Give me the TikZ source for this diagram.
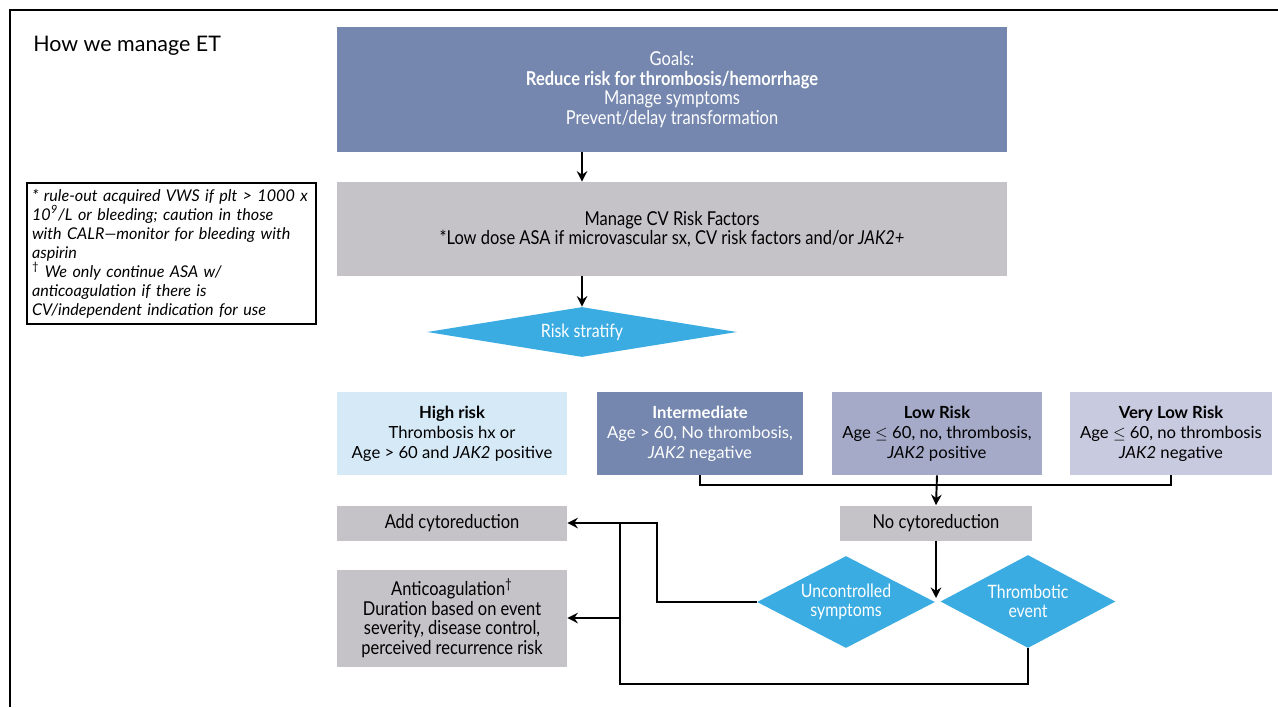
\documentclass[tikz,border=0pt]{standalone}
\usepackage{fontspec}
\setmainfont{Lato}
\newfontfamily\narrowfont{Lato}[FakeStretch=0.86]
\usetikzlibrary{arrows.meta,positioning,calc,shapes.geometric}
\definecolor{goalcol}{RGB}{117,135,174}
\definecolor{cvgray}{RGB}{197,195,199}
\definecolor{stratcol}{RGB}{58,172,226}
\definecolor{highcol}{RGB}{214,233,247}
\definecolor{lowcol}{RGB}{165,170,200}
\definecolor{vlowcol}{RGB}{200,202,223}
\tikzset{
  gbox/.style={rectangle,fill=cvgray,inner sep=2pt,align=center,font=\narrowfont\fontsize{10.9}{11.1}\selectfont},
  riskbox/.style={rectangle,inner sep=2pt,align=center,minimum height=1.66cm,font=\fontsize{9.5}{11.3}\selectfont},
  dec/.style={diamond,fill=stratcol,inner sep=0pt,align=center,text=white,font=\narrowfont\fontsize{10.5}{10.8}\selectfont},
  ln/.style={line width=1.1pt},
  arr/.style={-{Stealth[length=6pt,width=6pt,inset=2pt]},line width=1.1pt}
}
\begin{document}
\begin{tikzpicture}[x=0.02cm,y=-0.02cm]
  \useasboundingbox (0,0) rectangle (1278,707);
  \draw[line width=1.4pt] (10,707) -- (10,10) -- (1278,10);
  \node[anchor=west,inner sep=0pt,font=\fontsize{12.2}{14}\selectfont] (ttl) at (33,46) {How we manage ET};
  \node[gbox,fill=goalcol,text=white,minimum width=13.4cm,minimum height=2.5cm] (goals) at (672,89.5)
    {Goals:\\\textbf{Reduce risk for thrombosis/hemorrhage}\\Manage symptoms\\Prevent/delay transformation};
  \node[gbox,minimum width=13.4cm,minimum height=1.88cm] (cv) at (672,229)
    {Manage CV Risk Factors\\*Low dose ASA if microvascular sx, CV risk factors and/or \textit{JAK2+}};
  \node[dec,minimum width=6.2cm,minimum height=1cm,aspect=6.2] (strat) at (582,332) {Risk stratify};
  \node[draw,line width=0.9pt,rectangle,inner sep=3pt,align=left,text width=5.58cm,minimum height=2.82cm,
    font=\itshape\fontsize{9.2}{10.8}\selectfont] (note) at (171.5,253.5)
    {* rule-out acquired VWS if plt > 1000 x\\10\textsuperscript{9}/L or bleeding; caution in those\\with CALR—monitor for bleeding with\\aspirin\\\textsuperscript{\upshape†} We only continue ASA w/\\anticoagulation if there is\\CV/independent indication for use};
  \node[riskbox,fill=highcol,minimum width=4.6cm] (high) at (452,433.5)
    {\textbf{High risk}\\Thrombosis hx or\\Age > 60 and \textit{JAK2} positive};
  \node[riskbox,fill=goalcol,text=white,minimum width=4.12cm] (inter) at (700,433.5)
    {\textbf{Intermediate}\\Age > 60, No thrombosis,\\\textit{JAK2} negative};
  \node[riskbox,fill=lowcol,minimum width=4.2cm] (low) at (937,433.5)
    {\textbf{Low Risk}\\Age $\le$ 60, no, thrombosis,\\\textit{JAK2} positive};
  \node[riskbox,fill=vlowcol,minimum width=4.04cm] (vlow) at (1171,433.5)
    {\textbf{Very Low Risk}\\Age $\le$ 60, no thrombosis\\\textit{JAK2} negative};
  \node[gbox,minimum width=4.6cm,minimum height=0.7cm] (add) at (452,523) {Add cytoreduction};
  \node[gbox,minimum width=3.86cm,minimum height=0.7cm] (nocyto) at (936,523) {No cytoreduction};
  \node[gbox,minimum width=4.6cm,minimum height=1.94cm] (anti) at (452,618)
    {Anticoagulation\textsuperscript{†}\\Duration based on event\\severity, disease control,\\perceived recurrence risk};
  \node[dec,minimum width=3.56cm,minimum height=1.84cm,aspect=1.93] (unc) at (846,602) {Uncontrolled\\symptoms};
  \node[dec,minimum width=3.5cm,minimum height=1.86cm,aspect=1.88] (thr) at (1028,601.5) {Thrombotic\\event};
  \coordinate (gap) at (936,598);
  \coordinate (ua) at (657,523);
  \coordinate (tb) at (620,684);
  \coordinate (tt) at (620,523);
  \draw[arr] (goals.south -| strat) -- (cv.north -| strat);
  \draw[arr] (cv.south -| strat) -- (strat.north);
  \draw[ln] (inter.south) -- ++(0,10) -| (vlow.south);
  \draw[arr] (low.south) -- (nocyto.north);
  \draw[arr] (nocyto.south) -- (gap);
  \draw[arr] (unc.west) -| (ua) -- (add.east);
  \draw[ln] (thr.south) |- (tb) -- (tt);
  \draw[arr] (tb |- anti.east) -- (anti.east);
\end{tikzpicture}
\end{document}
